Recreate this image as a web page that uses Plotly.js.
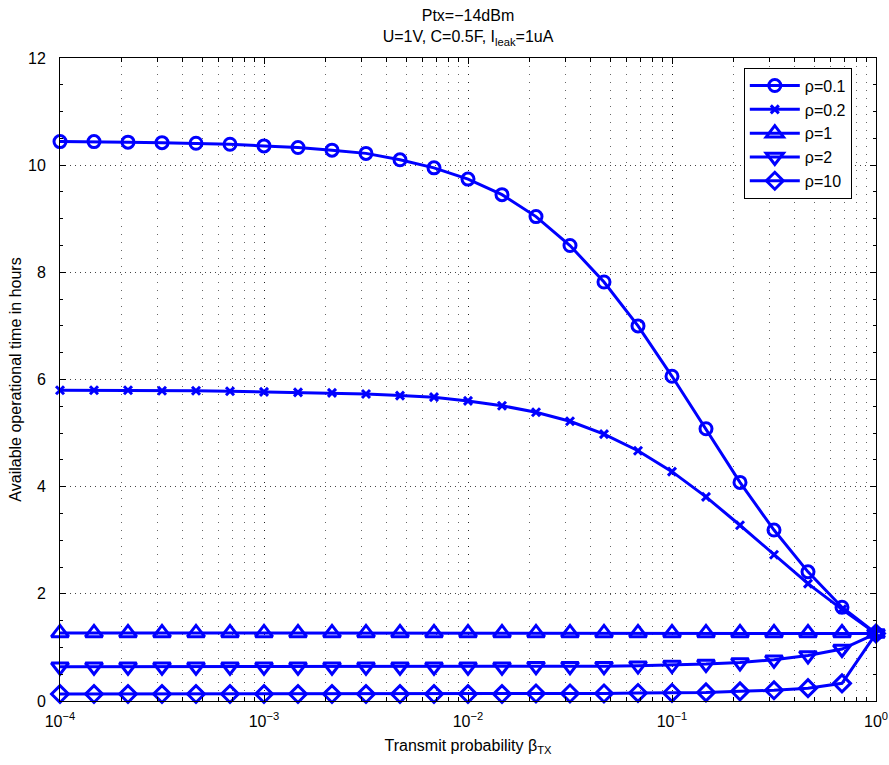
<!DOCTYPE html>
<html>
<head>
<meta charset="utf-8">
<script src="https://cdn.plot.ly/plotly-3.0.1.min.js"></script>
<style>html,body{margin:0;padding:0;background:#fff;}#chart{width:889px;height:765px;}</style>
</head>
<body>
<div id="chart"></div>
<script>
// Transmit probability exponents: 25 points, 1/6 decade apart from 1e-4 to 1
const betaExp = [-4, -23/6, -22/6, -21/6, -20/6, -19/6, -3, -17/6, -16/6, -15/6, -14/6, -13/6, -2,
  -11/6, -10/6, -9/6, -8/6, -7/6, -1, -5/6, -4/6, -3/6, -2/6, -1/6, 0];
const rho01 = [10.44,10.44,10.43,10.42,10.41,10.39,10.36,10.33,10.28,10.22,10.10,9.95,9.74,9.45,9.04,8.50,7.82,7.00,6.06,5.08,4.08,3.19,2.41,1.75,1.26];
const rho02 = [5.80,5.80,5.80,5.79,5.79,5.78,5.77,5.76,5.75,5.73,5.70,5.67,5.60,5.51,5.39,5.22,4.98,4.67,4.28,3.81,3.28,2.73,2.19,1.71,1.26];
const rho1  = [1.27,1.27,1.27,1.27,1.27,1.27,1.27,1.27,1.27,1.27,1.27,1.27,1.27,1.27,1.27,1.27,1.27,1.27,1.27,1.27,1.27,1.27,1.27,1.27,1.26];
const rho2  = [0.64,0.64,0.64,0.64,0.64,0.64,0.64,0.64,0.64,0.64,0.64,0.64,0.64,0.64,0.65,0.65,0.65,0.66,0.67,0.69,0.72,0.77,0.85,0.97,1.26];
const rho10 = [0.13,0.13,0.13,0.13,0.13,0.13,0.13,0.13,0.13,0.13,0.13,0.13,0.13,0.13,0.14,0.14,0.14,0.15,0.15,0.16,0.18,0.20,0.24,0.33,1.26];
const seriesNames = ['ρ=0.1','ρ=0.2','ρ=1','ρ=2','ρ=10'];
const xTickVals = [1e-4, 1e-3, 1e-2, 1e-1, 1];
const xTickText = ['10<sup>−4</sup>','10<sup>−3</sup>','10<sup>−2</sup>','10<sup>−1</sup>','10<sup>0</sup>'];
const yTickVals = [0,2,4,6,8,10,12];

const beta = betaExp.map(e => Math.pow(10, e));
const blue = '#0000ff';
const series = [rho01, rho02, rho1, rho2, rho10];
const symbols = ['circle-open','x-thin-open','triangle-up-open','triangle-down-open','diamond-open'];
const sizes = [12, 8, 15, 15, 13];

const traces = series.map((ys, i) => ({
  x: beta, y: ys, name: seriesNames[i], type: 'scatter', mode: 'lines+markers',
  line: {color: blue, width: 3},
  marker: {symbol: symbols[i], size: sizes[i], color: blue, line: {color: blue, width: 3}},
  cliponaxis: false
}));

const font = {family: 'Liberation Sans, Arial, Helvetica, sans-serif', color: '#000'};

const layout = {
  width: 889, height: 765,
  margin: {l: 60, r: 13, t: 58, b: 63.5},
  paper_bgcolor: '#fff', plot_bgcolor: '#fff',
  font: Object.assign({size: 14}, font),
  title: {text: 'Ptx=−14dBm<br>U=1V, C=0.5F, I<sub>leak</sub>=1uA',
          x: 0.5, xref: 'paper', y: 0.972, yref: 'container', yanchor: 'middle',
          font: Object.assign({size: 16}, font)},
  showlegend: true,
  legend: {x: 0.838, y: 0.985, xanchor: 'left', yanchor: 'top',
           bordercolor: '#000', borderwidth: 1, bgcolor: '#fff',
           font: Object.assign({size: 16}, font), tracegroupgap: 0, itemwidth: 50},
  xaxis: {
    type: 'log', range: [-4, 0],
    tickvals: xTickVals, ticktext: xTickText,
    ticks: 'inside', ticklen: 6, tickcolor: '#000', ticklabelstandoff: 6,
    showline: true, linecolor: '#000', linewidth: 1, mirror: 'allticks',
    showgrid: true, gridcolor: '#222', griddash: '1px,7px', gridwidth: 1,
    zeroline: false,
    tickfont: Object.assign({size: 16}, font),
    minor: {dtick: 'D1', ticks: 'inside', ticklen: 4, tickcolor: '#000',
            showgrid: true, gridcolor: '#666', griddash: '1px,7px', gridwidth: 1},
    title: {text: 'Transmit probability β<sub>TX</sub>', standoff: 10,
            font: Object.assign({size: 16}, font)}
  },
  yaxis: {
    range: [0, 12], tickvals: yTickVals,
    ticks: 'inside', ticklen: 6, tickcolor: '#000', ticklabelstandoff: 10,
    showline: true, linecolor: '#000', linewidth: 1, mirror: 'allticks',
    showgrid: true, gridcolor: '#444', griddash: '1px,4px', gridwidth: 1,
    zeroline: false,
    tickfont: Object.assign({size: 16}, font),
    minor: {dtick: 0.5, ticks: 'inside', ticklen: 3, tickcolor: '#000', showgrid: false},
    title: {text: 'Available operational time in hours', standoff: 2,
            font: Object.assign({size: 16}, font)}
  }
};

Plotly.newPlot('chart', traces, layout, {displayModeBar: false, staticPlot: true});
</script>
</body>
</html>
